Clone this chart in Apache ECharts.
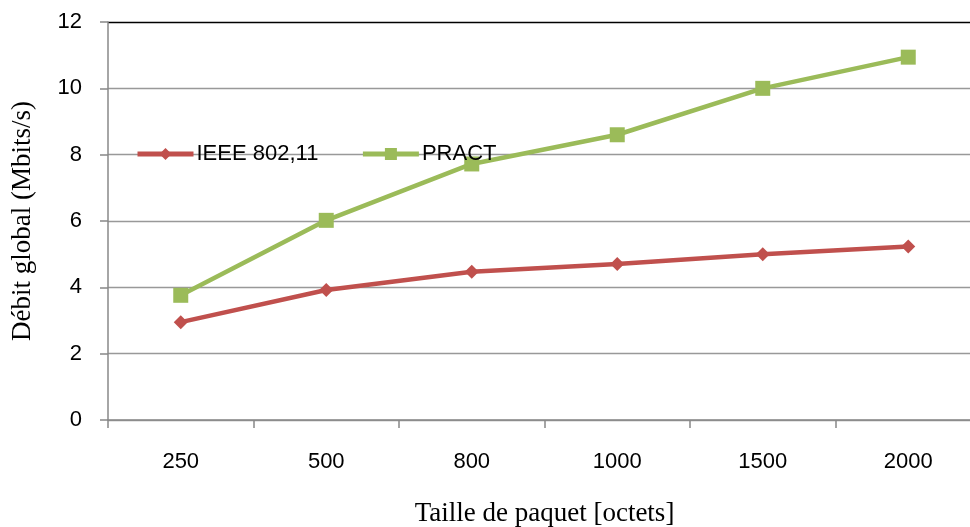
<!DOCTYPE html>
<html><head><meta charset="utf-8">
<script src="https://cdn.jsdelivr.net/npm/echarts@6/dist/echarts.min.js"></script>
<style>html,body{margin:0;padding:0;background:#fff}#c{width:970px;height:527px}</style>
</head><body><div id="c"></div>
<script>
const categories = ['250','500','800','1000','1500','2000'];
const ieee = [2.95, 3.92, 4.47, 4.70, 5.00, 5.23];
const pract = [3.76, 6.02, 7.72, 8.60, 10.00, 10.94];
const yTicks = {min: 0, max: 12, interval: 2};

const chart = echarts.init(document.getElementById('c'));
const sans = '"Liberation Sans", Arial, sans-serif';
const serif = '"Liberation Serif", "Times New Roman", serif';
chart.setOption({
  animation: false,
  backgroundColor: '#fff',
  grid: {left: 108, top: 22, width: 873, height: 398, outerBoundsMode: 'none', containLabel: false},
  legend: {
    left: 135, top: 143, padding: 0, itemWidth: 56, itemHeight: 15, itemGap: 42,
    lineStyle: {width: 5},
    textStyle: {fontFamily: sans, fontSize: 22, color: '#000', padding: [0,0,0,-2]},
    data: ['IEEE 802,11', 'PRACT']
  },
  xAxis: {
    type: 'category', data: categories, boundaryGap: true,
    name: 'Taille de paquet [octets]', nameLocation: 'middle', nameGap: 80,
    nameTextStyle: {fontFamily: serif, fontSize: 27, color: '#000'},
    axisLine: {lineStyle: {color: '#888', width: 1.5}},
    axisTick: {show: true, length: 8, lineStyle: {color: '#888', width: 1.5}},
    axisLabel: {fontFamily: sans, fontSize: 22, color: '#000', margin: 31}
  },
  yAxis: {
    type: 'value', min: yTicks.min, max: yTicks.max, interval: yTicks.interval,
    name: 'Débit global (Mbits/s)', nameLocation: 'middle', nameGap: 72, nameRotate: 90,
    nameTextStyle: {fontFamily: serif, fontSize: 27, color: '#000'},
    axisLine: {show: true, lineStyle: {color: '#888', width: 1.5}},
    axisTick: {show: true, length: 8, lineStyle: {color: '#888', width: 1.5}},
    axisLabel: {fontFamily: sans, fontSize: 22, color: '#000', margin: 26},
    splitLine: {show: true, lineStyle: {color: ['#999','#999','#999','#999','#999','#999','#000'], width: 1.3}}
  },
  series: [
    {name: 'IEEE 802,11', type: 'line', data: ieee, symbol: 'diamond', symbolSize: 14,
     itemStyle: {color: '#C0504D'}, lineStyle: {color: '#C0504D', width: 4.5}},
    {name: 'PRACT', type: 'line', data: pract, symbol: 'rect', symbolSize: 15,
     itemStyle: {color: '#9BBB59'}, lineStyle: {color: '#9BBB59', width: 4.5}}
  ]
});
</script></body></html>
